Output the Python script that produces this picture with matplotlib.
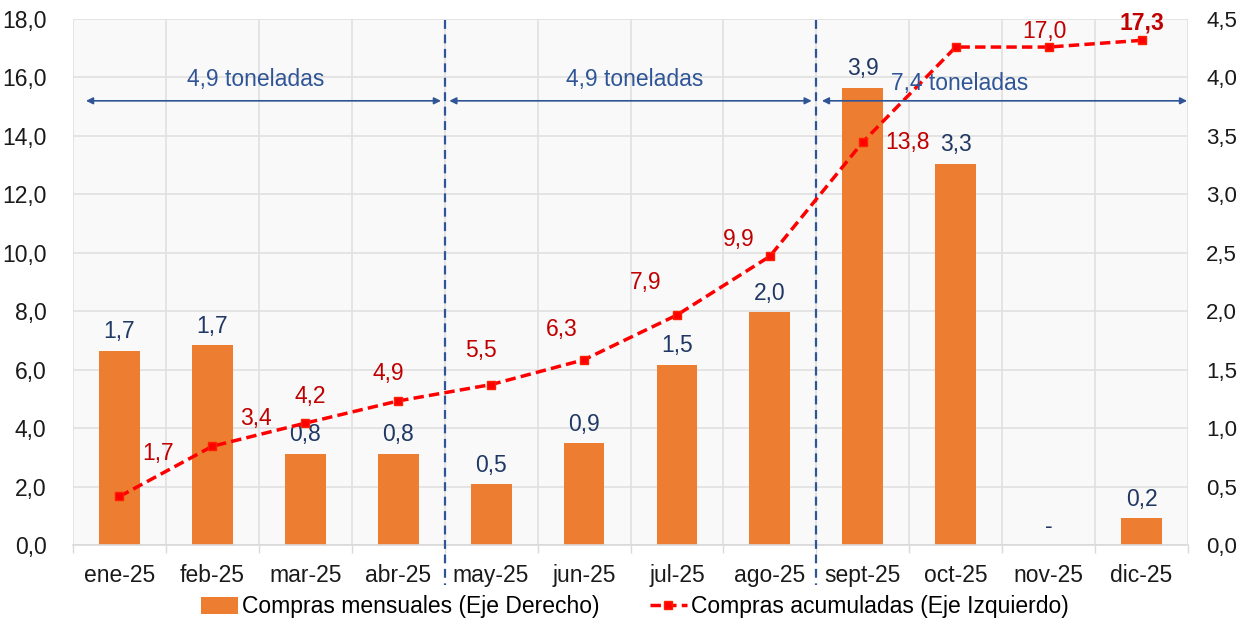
import matplotlib
matplotlib.use("Agg")
import matplotlib.pyplot as plt
from matplotlib.ticker import FuncFormatter, MultipleLocator, FixedLocator

plt.rcParams['font.family'] = ['Liberation Sans', 'DejaVu Sans']

months = ["ene-25", "feb-25", "mar-25", "abr-25", "may-25", "jun-25",
          "jul-25", "ago-25", "sept-25", "oct-25", "nov-25", "dic-25"]
monthly = [1.66, 1.71, 0.78, 0.78, 0.52, 0.87, 1.54, 1.99, 3.91, 3.26, 0.0, 0.23]
cumulative = [1.66, 3.38, 4.17, 4.93, 5.49, 6.34, 7.87, 9.88, 13.79, 17.04, 17.04, 17.27]
group_labels = ["4,9 toneladas", "4,9 toneladas", "7,4 toneladas"]

# label offsets in pixels (layout only)
cum_offsets = [(39, 43), (44, 28), (5, 27), (-10, 27), (-10, 34), (-22, 30),
               (-31, 33), (-31, 17), (45, 0), None, (-4, 16), (0, 17)]

fmt = lambda v: f"{v:.1f}".replace(".", ",")

W, H = 1244, 620
fig = plt.figure(figsize=(W / 100, H / 100), dpi=100)
ax = fig.add_axes([73 / W, 1 - 545 / H, (1188 - 73) / W, (545 - 19) / H])
ax.set_facecolor("#F9F9F9")
ax2 = ax.twinx()
ax2.patch.set_visible(False)
x = list(range(len(months)))

FS = 16.5

# bars on right scale
ax.bar(x, monthly, width=0.44, color="#ED7D31", zorder=2,
       label="Compras mensuales (Eje Derecho)")
ax.set_ylim(0, 4.5)
ax.set_xlim(-0.5, 11.5)
ax.yaxis.set_major_locator(MultipleLocator(0.5))
ax.yaxis.set_major_formatter(FuncFormatter(lambda v, p: fmt(v)))
ax.tick_params(axis="y", left=False, labelleft=False, right=False, labelright=True,
               length=0, pad=13, labelsize=16, colors="#1a1a1a")
ax.set_xticks(x)
ax.set_xticklabels(months)
ax.xaxis.set_minor_locator(FixedLocator([i - 0.5 for i in range(13)]))
ax.tick_params(axis="x", which="major", length=0, pad=14, labelsize=FS, colors="#1a1a1a")
ax.tick_params(axis="x", which="minor", length=6, color="#D9D9D9", width=1)
ax.grid(True, axis="y", color="#E0E0E0", linewidth=1.2, zorder=0)
ax.grid(True, axis="x", which="minor", color="#E0E0E0", linewidth=1.2, zorder=0)
for s in ["top", "left", "right"]:
    ax.spines[s].set_visible(False)
ax.spines["bottom"].set_color("#D9D9D9")
ax.spines["bottom"].set_linewidth(1.2)

for xi, v in zip(x, monthly):
    txt = fmt(v) if v > 0 else "-"
    ax.annotate(txt, (xi, v), xytext=(0, 19), textcoords="offset pixels",
                ha="center", va="center", fontsize=FS, color="#203864", zorder=5)

# line on left scale
ax2.plot(x, cumulative, color="#FF0000", linestyle=(0, (3, 1.5)), linewidth=2.5,
         marker="s", markersize=6, markerfacecolor="#FF0000",
         markeredgecolor="#FF2000", zorder=4,
         label="Compras acumuladas (Eje Izquierdo)")
ax2.set_ylim(0, 18)
ax2.yaxis.set_major_locator(MultipleLocator(2))
ax2.yaxis.set_major_formatter(FuncFormatter(lambda v, p: fmt(v)))
ax2.tick_params(axis="y", left=False, labelleft=True, right=False, labelright=False,
                length=0, pad=19, labelsize=FS, colors="#1a1a1a")
for s in ["top", "left", "right", "bottom"]:
    ax2.spines[s].set_visible(False)

for i, (xi, v) in enumerate(zip(x, cumulative)):
    off = cum_offsets[i]
    if off is None:
        continue
    last = i == len(cumulative) - 1
    ax2.annotate(fmt(v), (xi, v), xytext=off, textcoords="offset pixels",
                 ha="center", va="center", fontsize=FS, color="#C00000",
                 fontweight="bold" if last else "normal", zorder=6)

# period separators and arrows
for xs in [3.5, 7.5]:
    ax2.plot([xs, xs], [17.95, -1.37], color="#2F5597", linestyle=(0, (4, 2.5)),
             linewidth=1.6, clip_on=False, zorder=3)

arrow_spans = [(-0.36, 3.46), (3.55, 7.45), (7.56, 11.49)]
text_pos = [(1.47, 15.92), (5.54, 15.92), (9.04, 15.8)]
for (a, b), (tx, ty), lab in zip(arrow_spans, text_pos, group_labels):
    ax2.annotate("", xy=(b, 15.2), xytext=(a, 15.2),
                 arrowprops=dict(arrowstyle="<|-|>", color="#2F5597", lw=1.2,
                                 mutation_scale=10, shrinkA=0, shrinkB=0),
                 annotation_clip=False, zorder=5)
    ax2.text(tx, ty, lab, ha="center", va="center", fontsize=FS, color="#2F5597", zorder=5)

h1, l1 = ax.get_legend_handles_labels()
h2, l2 = ax2.get_legend_handles_labels()
fig.legend(h1 + h2, l1 + l2, loc="center", bbox_to_anchor=(635 / W, 1 - 607 / H),
           ncol=2, frameon=False, fontsize=FS, handlelength=1.6, handletextpad=0.2,
           columnspacing=2.2, borderpad=0)

fig.savefig("out.png", dpi=100, facecolor="white")
